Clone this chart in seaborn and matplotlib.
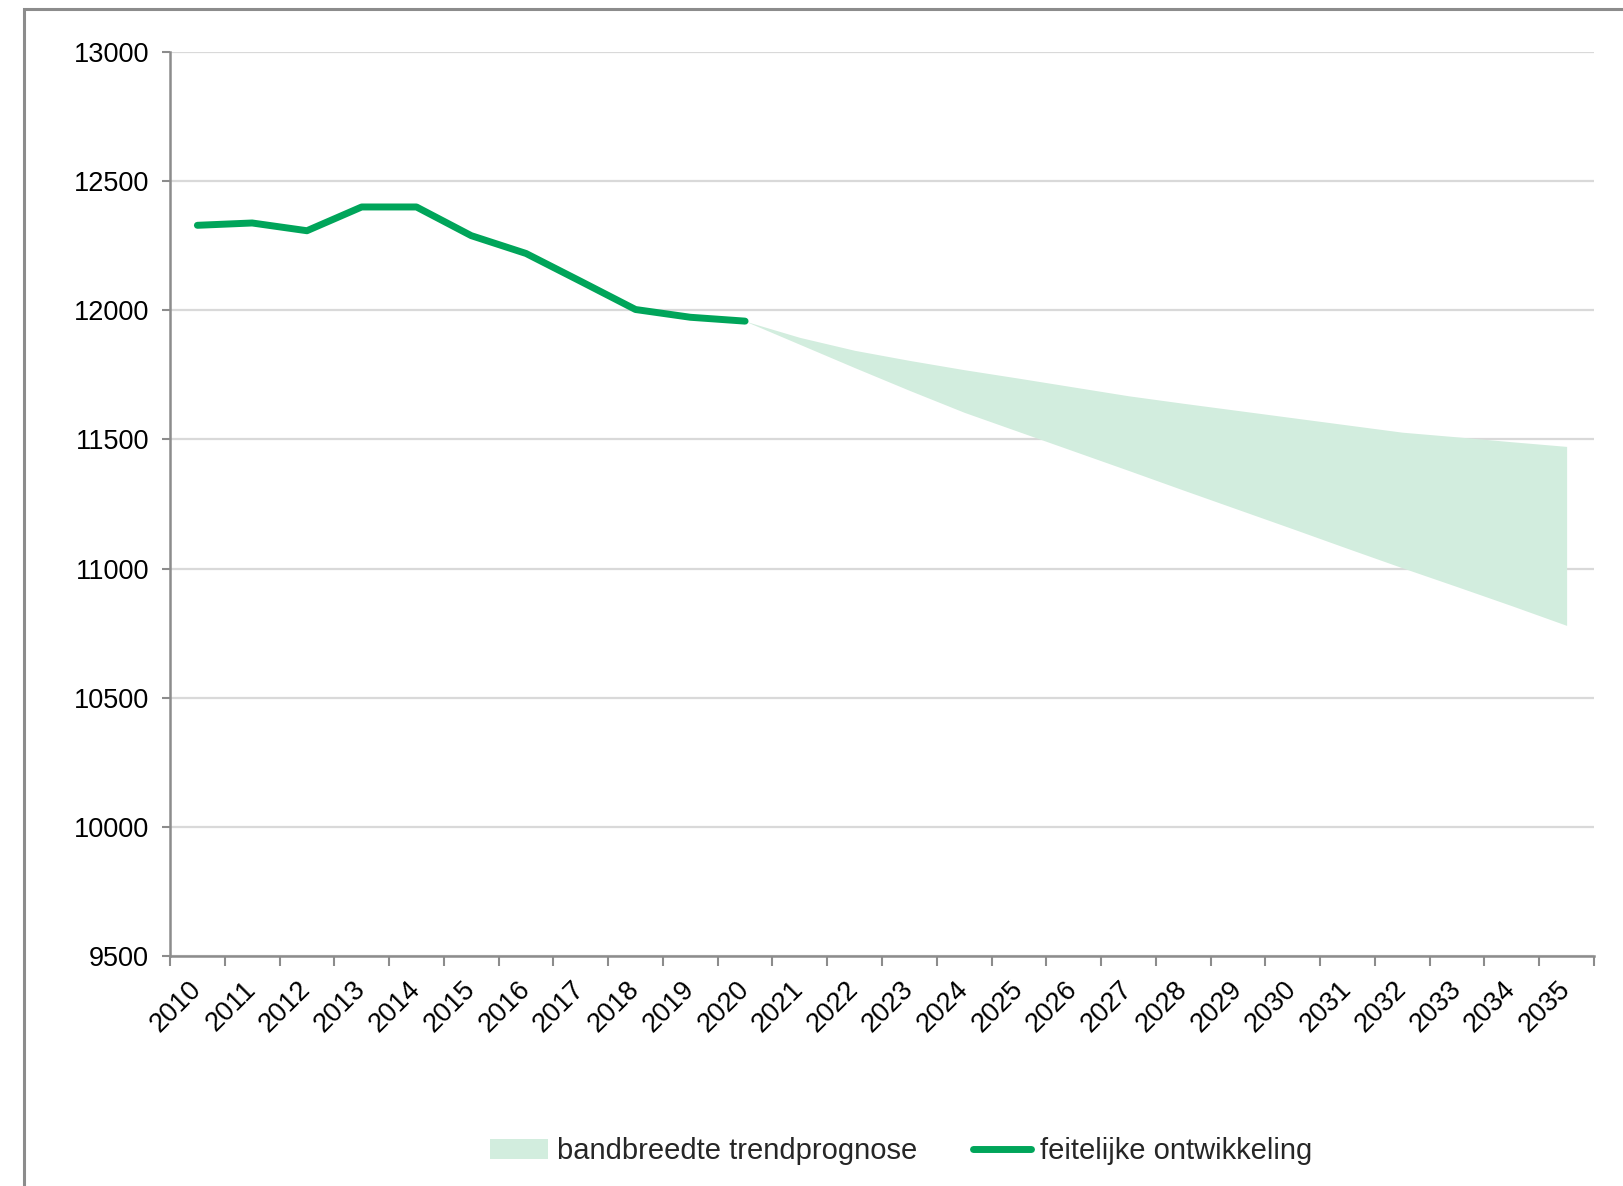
import matplotlib
matplotlib.use("Agg")
import matplotlib.pyplot as plt
from matplotlib.patches import Rectangle
from matplotlib.ticker import FixedLocator
import pandas as pd
import seaborn as sns

# ---------- data
years = list(range(2010, 2036))
actual_years = list(range(2010, 2021))
actual_values = [12329, 12338, 12308, 12400, 12400, 12289, 12220, 12112, 12003, 11973, 11958]

band_years = list(range(2020, 2036))
band_upper = [11958, 11895, 11845, 11806, 11770, 11737, 11703, 11669,
              11640, 11612, 11584, 11556, 11528, 11510, 11491, 11473]
band_lower = [11958, 11868, 11778, 11690, 11605, 11530, 11455, 11380,
              11304, 11229, 11154, 11078, 11003, 10930, 10856, 10780]

y_ticks = [9500, 10000, 10500, 11000, 11500, 12000, 12500, 13000]

label_band = "bandbreedte trendprognose"
label_line = "feitelijke ontwikkeling"

LINE_GREEN = "#00A55A"
BAND_GREEN = "#D2EDDE"
AXIS_GREY = "#8C8C8C"
GRID_GREY = "#D9D9D9"

sns.set_theme(style="white")
plt.rcParams["font.family"] = ["Liberation Sans", "DejaVu Sans"]

fig = plt.figure(figsize=(16.23, 11.86), dpi=100)
ax = fig.add_axes([170 / 1623, 1 - 956 / 1186, (1594 - 170) / 1623, (956 - 52) / 1186])

df = pd.DataFrame({"year": actual_years, "value": actual_values})
band = pd.DataFrame({"year": band_years, "lo": band_lower, "hi": band_upper})

ax.fill_between(band["year"], band["lo"], band["hi"], color=BAND_GREEN,
                linewidth=0, label=label_band, zorder=2)
sns.lineplot(data=df, x="year", y="value", ax=ax, color=LINE_GREEN,
             linewidth=5, solid_capstyle="round", label=label_line, zorder=3)

ax.set_xlim(years[0] - 0.5, years[-1] + 0.5)
ax.set_ylim(y_ticks[0], y_ticks[-1])
ax.set_xlabel("")
ax.set_ylabel("")

# y axis
ax.set_yticks(y_ticks)
ax.set_yticklabels([str(v) for v in y_ticks], fontsize=19.5, color="black")
ax.yaxis.grid(True, color=GRID_GREY, linewidth=1.6, zorder=0)
ax.xaxis.grid(False)
ax.tick_params(axis="y", which="major", length=6, width=1.5, color=AXIS_GREY,
               direction="out", pad=9, left=True)

# x axis: labels at category centres, tick marks at category boundaries
ax.set_xticks(years)
ax.set_xticklabels([str(y) for y in years], fontsize=19.5, color="black",
                   rotation=45, ha="right", va="center", rotation_mode="anchor")
ax.tick_params(axis="x", which="major", length=0, pad=21)
ax.xaxis.set_minor_locator(FixedLocator([y - 0.5 for y in years] + [years[-1] + 0.5]))
ax.tick_params(axis="x", which="minor", length=7, width=1.5, color=AXIS_GREY,
               direction="out", bottom=True)

for side in ["top", "right"]:
    ax.spines[side].set_visible(False)
for side in ["left", "bottom"]:
    ax.spines[side].set_color(AXIS_GREY)
    ax.spines[side].set_linewidth(1.8)
ax.set_axisbelow(True)

# legend at the bottom
handles, labels = ax.get_legend_handles_labels()
order = [labels.index(label_band), labels.index(label_line)]
ax.legend([handles[i] for i in order], [labels[i] for i in order],
          loc="center", bbox_to_anchor=(901 / 1623, 1 - 1151 / 1186),
          bbox_transform=fig.transFigure, ncol=2, frameon=False,
          fontsize=21, handlelength=2.0, handletextpad=0.3,
          columnspacing=1.9)

# outer chart frame (cropped on the right and bottom)
fig.add_artist(Rectangle((24 / 1623, -0.05), 1.1, 1 - 9 / 1186 + 0.05,
                         transform=fig.transFigure, fill=False,
                         edgecolor=AXIS_GREY, linewidth=2.2))

fig.savefig("out.png", dpi=100)
